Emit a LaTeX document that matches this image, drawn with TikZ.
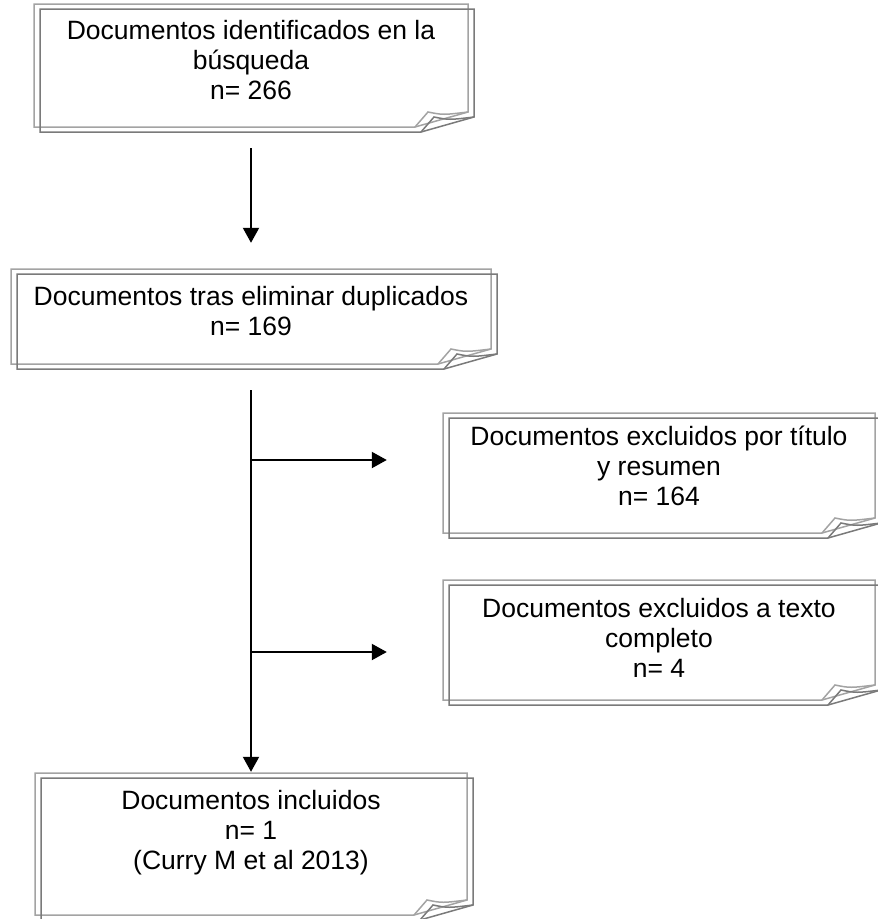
\documentclass[tikz,border=0pt]{standalone}
\usepackage{fontspec}
\setmainfont{Liberation Sans}
\usetikzlibrary{arrows.meta,fit}
\tikzset{
  backline/.style={draw=black!36, line width=1.5pt},
  frontline/.style={draw=black!52, line width=1.5pt},
  arr/.style={line width=2pt, -{Triangle[length=15pt,width=16pt]}},
  boxtext/.style={align=center, inner sep=0pt, anchor=north,
    font=\fontsize{26.5}{30}\selectfont},
}
\newcommand\curlrect[5]{%
  \draw[#1] (#2,#5) -- (#2,#3) -- (#4,#3) -- (#4,#5-15) -- (#4-53,#5) -- cycle;
  \draw[#1] (#4-53,#5) -- (#4-40,#5-15) .. controls (#4-25,#5-12) .. (#4,#5-15);
}
\newcommand\docbox[5]{%
  \curlrect{backline}{#2}{#3}{#4}{#5}
  \curlrect{frontline}{#2+6}{#3+5}{#4+6}{#5+5}
  \node[inner sep=0pt, fit={(#2,#3) (#4,#5)}] (#1) {};
}
\begin{document}
\begin{tikzpicture}[x=1pt,y=-1pt]
\useasboundingbox (0,0) rectangle (878,919);
\clip (0,0) rectangle (878,919);
\docbox{b1}{34}{4}{468}{127}
\docbox{b2}{11}{269}{491}{364}
\docbox{b3}{443}{413}{875}{533}
\docbox{b4}{443}{580}{875}{700}
\docbox{b5}{35}{773}{467}{915}

\node[boxtext] (t1) at (251,20) {Documentos identificados en la\\búsqueda\\n= 266};
\node[boxtext] (t2) at (251,286) {Documentos tras eliminar duplicados\\n= 169};
\node[boxtext] (t3) at (659,426) {Documentos excluidos por título\\y resumen\\n= 164};
\node[boxtext] (t4) at (659,598) {Documentos excluidos a texto\\completo\\n= 4};
\node[boxtext] (t5) at (251,790) {Documentos incluidos\\n= 1\\(Curry M et al 2013)};

\draw[arr, shorten <=21pt, shorten >=26pt] (b1.south) -- (b2.north);
\draw[arr, shorten <=26pt, shorten >=1pt] (b2.south) -- (b5.north);
\coordinate (j1) at (251,460);
\coordinate (j2) at (251,652);
\draw[arr, shorten >=56pt] (j1) -- (j1 -| b3.west);
\draw[arr, shorten >=56pt] (j2) -- (j2 -| b4.west);
\end{tikzpicture}
\end{document}
